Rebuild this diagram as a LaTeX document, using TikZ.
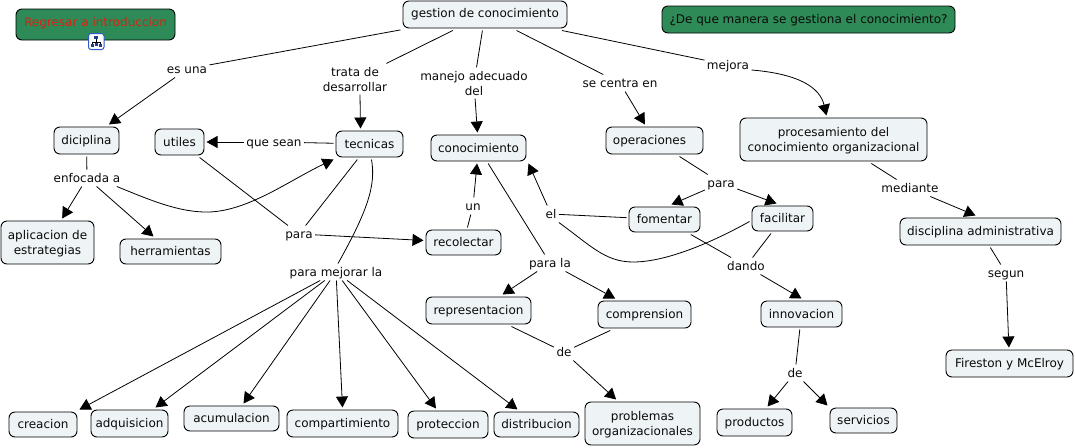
\documentclass[tikz,border=0pt]{standalone}
\usepackage{fontspec}
\setmainfont{DejaVu Sans}
\usetikzlibrary{arrows.meta}
\definecolor{boxfill}{RGB}{238,243,246}
\definecolor{greenfill}{RGB}{46,139,87}
\definecolor{inktext}{RGB}{10,10,10}
\definecolor{redtext}{RGB}{215,35,20}
\definecolor{iconblue}{RGB}{50,90,200}
\newcommand{\lowerline}{\rule{0pt}{11pt}}
\tikzset{
  x=1pt,y=-1pt,
  basebox/.style={draw=black,line width=0.9pt,rounded corners=6pt,fill=boxfill,inner sep=0pt,outer sep=2.5pt,
    font=\fontsize{12}{15}\selectfont,text=inktext,align=center},
  sizedbox/.style={basebox,text height=10pt,text depth=2pt},
  greenbox/.style={sizedbox,fill=greenfill},
  linklabel/.style={inner sep=1pt,outer sep=1.5pt,font=\fontsize{12}{15}\selectfont,text=inktext,align=center},
  onelabel/.style={linklabel,text height=10pt,text depth=2pt},
  conn/.style={draw=black,line width=0.8pt},
  arr/.style={conn,-{Triangle[length=11pt,width=12pt]}},
}
\newcommand{\mapbox}[6]{\node[sizedbox,minimum width=#4pt,minimum height=#5pt] (#1) at (#2,#3) {#6};}
\newcommand{\mapboxtwo}[6]{\node[basebox,minimum width=#4pt,minimum height=#5pt] (#1) at (#2,#3) {\lowerline #6};}
\begin{document}
\begin{tikzpicture}
\useasboundingbox (0,0) rectangle (1075,447);
% concepts
\node[basebox,minimum width=164pt,minimum height=27pt,text height=9pt,text depth=3pt] (gestion) at (485,14.5) {gestion de conocimiento};
\node[greenbox,minimum width=159pt,minimum height=31pt,text=redtext,text height=9pt,text depth=6pt] (regresar) at (95.5,24.5) {Regresar a introduccion};
\node[greenbox,minimum width=293pt,minimum height=27pt] (pregunta) at (808.5,19.5) {¿De que manera se gestiona el conocimiento?};
\mapbox{diciplina}{86.5}{140.5}{65}{27}{diciplina}
\mapbox{utiles}{179.5}{142}{49}{26}{utiles}
\mapbox{tecnicas}{369.5}{144}{67}{26}{tecnicas}
\mapbox{conocimiento}{478.5}{148}{95}{26}{conocimiento}
\mapbox{operaciones}{654.5}{140.5}{97}{27}{operaciones\hspace*{10pt}}
\mapboxtwo{procesamiento}{833.5}{139.5}{187}{43}{procesamiento del\\conocimiento organizacional}
\mapboxtwo{aplicacion}{47.5}{242.5}{93}{43}{aplicacion de\\estrategias}
\mapbox{herramientas}{170.5}{251.5}{101}{25}{herramientas}
\mapbox{recolectar}{463.5}{242.5}{75}{25}{recolectar}
\mapbox{fomentar}{664.5}{219.5}{71}{25}{fomentar}
\mapbox{facilitar}{782.5}{218.5}{61}{25}{facilitar}
\mapbox{representacion}{478.5}{310.5}{105}{27}{representacion}
\mapbox{comprension}{644.5}{314.5}{93}{27}{comprension}
\mapbox{innovacion}{801.5}{314}{81}{26}{innovacion}
\mapbox{disciplina}{980.5}{231.5}{161}{27}{disciplina administrativa}
\mapbox{fireston}{1009.5}{363.5}{127}{27}{Fireston y McElroy}
\mapbox{creacion}{43}{424.5}{68}{25}{creacion}
\mapbox{adquisicion}{129.5}{423.5}{77}{27}{adquisicion}
\mapbox{acumulacion}{231.5}{418.5}{95}{25}{acumulacion}
\mapbox{compartimiento}{342.5}{423.5}{111}{27}{compartimiento}
\mapbox{proteccion}{448}{424.5}{80}{27}{proteccion}
\mapbox{distribucion}{536.5}{424.5}{85}{25}{distribucion}
\mapboxtwo{problemas}{642.5}{423.5}{115}{43}{problemas\\organizacionales}
\mapbox{productos}{754.5}{422.5}{75}{27}{productos}
\mapbox{servicios}{863.5}{420.5}{67}{25}{servicios}
% link labels
\node[onelabel] (esuna) at (187,69) {es una};
\node[linklabel] (trata) at (355,79) {\lowerline trata de\\desarrollar};
\node[linklabel] (manejo) at (474,83) {\lowerline manejo adecuado\\del};
\node[onelabel] (secentra) at (620,83) {se centra en};
\node[onelabel] (mejora) at (728,65) {mejora};
\node[onelabel] (enfocada) at (87,178) {enfocada a};
\node[onelabel] (quesean) at (274,142) {que sean};
\node[onelabel] (para1) at (299,234) {para};
\node[onelabel] (pm) at (336,272) {para mejorar la};
\node[onelabel] (un) at (473,206) {un};
\node[onelabel] (el) at (551,214) {el};
\node[onelabel] (parala) at (550,263) {para la};
\node[onelabel] (para2) at (721,183) {para};
\node[onelabel] (dando) at (746,266) {dando};
\node[onelabel] (de1) at (564,352) {de};
\node[onelabel] (de2) at (795,373) {de};
\node[onelabel] (mediante) at (910,188) {mediante};
\node[onelabel] (segun) at (1006,273) {segun};
% connectors
\draw[conn] (gestion) -- (esuna);
\draw[arr] (esuna) -- (diciplina);
\draw[conn] (gestion) -- (trata);
\draw[arr] ([xshift=5pt]trata.south) -- ([xshift=-9pt]tecnicas.north);
\draw[conn] (gestion) -- (manejo);
\draw[arr] (manejo) -- (conocimiento);
\draw[conn] (gestion) -- (secentra);
\draw[arr] (secentra) -- (operaciones);
\draw[conn] (gestion) -- (mejora);
\draw[arr] ([yshift=-5pt]mejora.east) .. controls (800,74) and (820,88) .. ([xshift=-7pt]procesamiento.north);
\draw[conn] (diciplina) -- (enfocada);
\draw[arr] (enfocada) -- (aplicacion);
\draw[arr] (enfocada) -- (herramientas);
\draw[arr] ([xshift=-6pt]enfocada.south east) .. controls (150,200) and (180,213) .. (210,212) .. controls (250,210) and (290,180) .. (tecnicas.south west);
\draw[conn] (tecnicas) -- (quesean);
\draw[arr] (quesean) -- (utiles);
\draw[conn] (utiles) -- (para1);
\draw[conn] (tecnicas) -- (para1);
\draw[arr] (para1) -- (recolectar);
\draw[conn] ([xshift=2pt]tecnicas.south) .. controls (376,185) and (368,210) .. ([xshift=2pt]pm.north);
\draw[arr] (pm) -- (creacion.north east);
\draw[arr] (pm) -- ([xshift=26pt]adquisicion.north);
\draw[arr] (pm) -- ([xshift=12pt]acumulacion.north);
\draw[arr] (pm) -- (compartimiento.north);
\draw[arr] (pm) -- ([xshift=-12pt]proteccion.north);
\draw[arr] (pm) -- ([xshift=-19pt]distribucion.north);
\draw[conn] (recolectar) -- (un);
\draw[arr] (un) -- (conocimiento);
\draw[conn] (conocimiento) -- (parala);
\draw[arr] (parala) -- (representacion);
\draw[arr] (parala) -- (comprension);
\draw[conn] (fomentar) -- (el);
\draw[arr] (el) -- (conocimiento.south east);
\draw[conn] ([yshift=-3pt]facilitar.west) .. controls (720,238) and (670,262) .. (633,262) .. controls (605,262) and (590,245) .. (el.south east);
\draw[conn] (operaciones) -- (para2);
\draw[arr] (para2) -- ([xshift=7pt]fomentar.north);
\draw[arr] (para2) -- ([xshift=-6pt]facilitar.north);
\draw[conn] (fomentar) -- (dando);
\draw[conn] (facilitar) -- (dando);
\draw[arr] (dando) -- (innovacion.north);
\draw[conn] (representacion) -- (de1);
\draw[conn] (comprension) -- (de1);
\draw[arr] (de1) -- (problemas);
\draw[conn] (innovacion) -- (de2);
\draw[arr] (de2) -- (productos);
\draw[arr] (de2) -- (servicios.north west);
\draw[conn] (procesamiento) -- (mediante);
\draw[arr] (mediante) -- ([xshift=-5pt]disciplina.north);
\draw[conn] (disciplina) -- (segun);
\draw[arr] (segun) -- (fireston);
% resource icon on the green box
\begin{scope}[line width=0.5pt]
\filldraw[draw=iconblue,fill=white,line width=1pt,rounded corners=2.5pt] (88.5,33.5) rectangle (104,49.5);
\draw[black] (96,37) -- (96,42) (92,44) -- (92,42) -- (100,42) -- (100,44);
\fill[iconblue!70!black] (94,35.5) rectangle (98,38.5);
\fill[iconblue!70!black] (90.5,44) rectangle (93.5,47);
\fill[iconblue!70!black] (94.5,43) rectangle (97.5,46);
\fill[iconblue!70!black] (98.5,44) rectangle (101.5,47);
\end{scope}
\end{tikzpicture}
\end{document}
